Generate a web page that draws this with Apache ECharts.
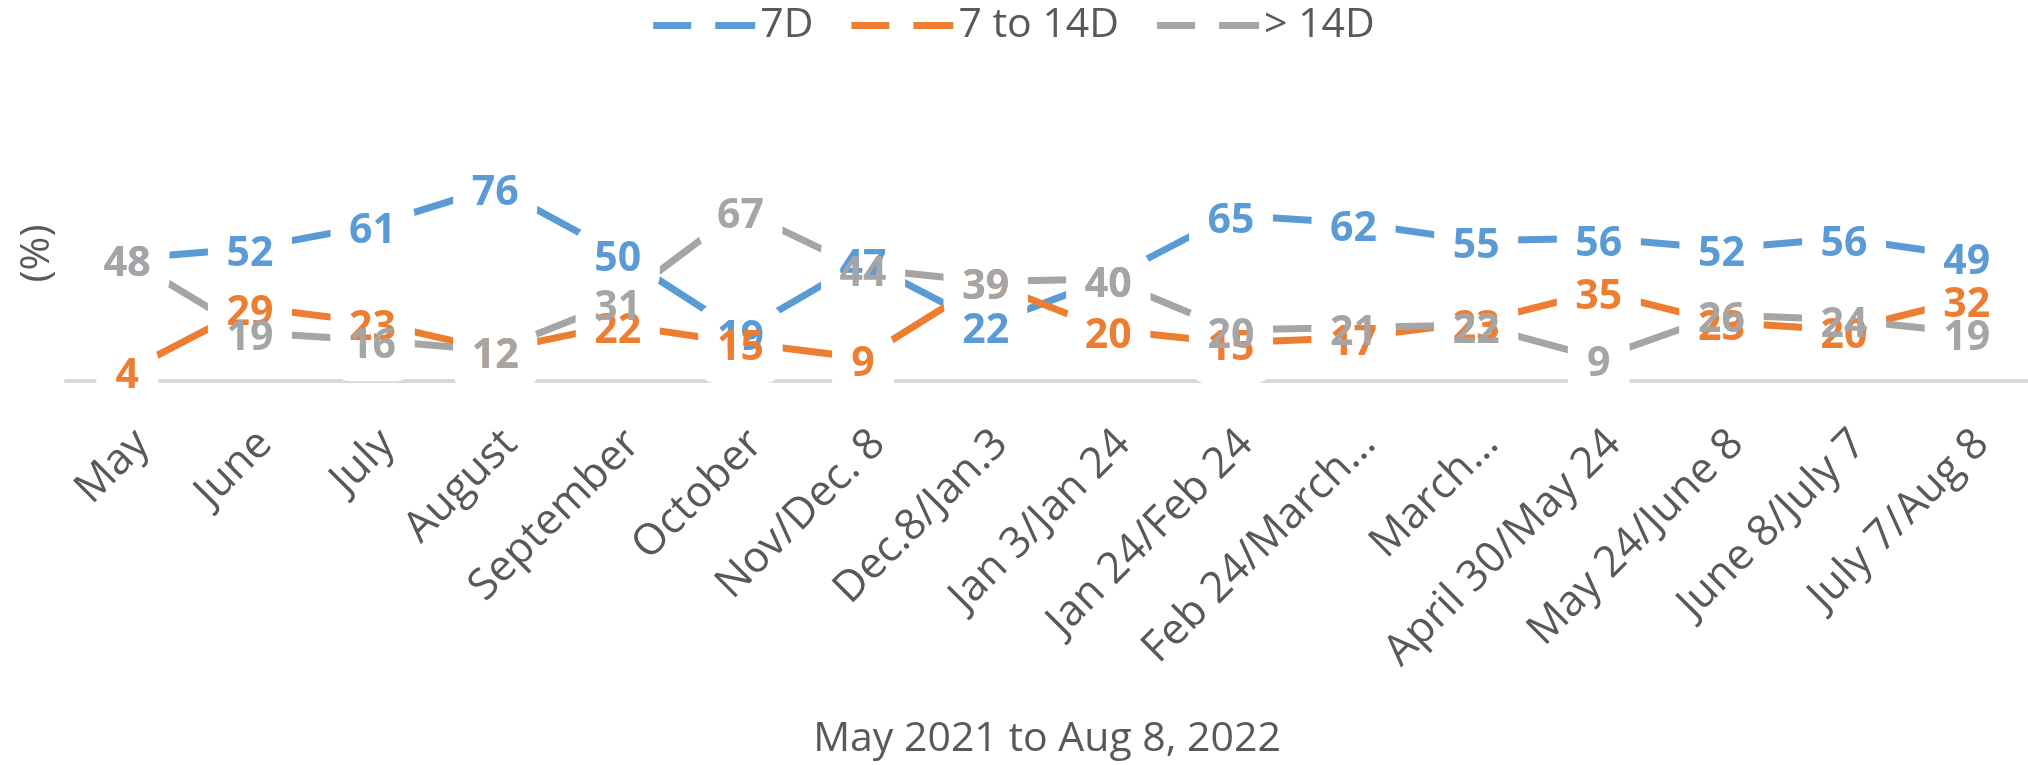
<!DOCTYPE html>
<html><head><meta charset="utf-8">
<script src="https://cdn.jsdelivr.net/npm/echarts@6/dist/echarts.min.js"></script>
<style>html,body{margin:0;padding:0;background:#fff}#c{width:2028px;height:765px}</style>
</head><body><div id="c"></div>
<script>
const categories = ['May','June','July','August','September','October','Nov/Dec. 8','Dec.8/Jan.3','Jan 3/Jan 24','Jan 24/Feb 24','Feb 24/March…','March…','April 30/May 24','May 24/June 8','June 8/July 7','July 7/Aug 8'];
const series7D = [48,52,61,76,50,19,47,22,40,65,62,55,56,52,56,49];
const series7to14D = [4,29,23,12,22,15,9,39,20,15,17,23,35,23,20,32];
const seriesOver14D = [48,19,16,12,31,67,44,39,40,20,21,22,9,26,24,19];
const seriesNames = ['7D','7 to 14D','> 14D'];
const colors = ['#5B9BD5','#ED7D31','#A5A5A5'];
const axisTitleX = 'May 2021 to Aug 8, 2022';
const axisTitleY = '(%)';

const FONT = "'Open Sans', 'Noto Sans', sans-serif";
const TEXT = '#595959';
const values = [series7D, series7to14D, seriesOver14D];
const DASH_ICON = 'path://M0,0H38V7H0ZM62,0H102V7H62Z';

const lineSeries = values.map((d,i)=>({
  name: seriesNames[i], type:'line', data:d, z:1, symbol:'none', showSymbol:false,
  lineStyle:{color:colors[i], width:7, cap:'butt'}, itemStyle:{color:colors[i]},
  emphasis:{disabled:true}, silent:true
}));
const glowSeries = values.map((d,i)=>({
  name:'glow'+i, type:'line', data:d, z:2, symbol:'circle', symbolSize:1, showAllSymbol:true,
  itemStyle:{color:'rgba(0,0,0,0)'}, lineStyle:{opacity:0}, silent:true, emphasis:{disabled:true},
  label:{show:true, position:'inside', offset:[0,6], formatter: p => (p.value>=10 ? '{w|\u00a0}' : '{n|\u00a0}'),
    rich:{ w:{width:84,height:70,backgroundColor:'#fff',borderRadius:19},
           n:{width:62,height:70,backgroundColor:'#fff',borderRadius:19} } }
}));
const textSeries = values.map((d,i)=>({
  name:'label'+i, type:'line', data:d, z:3, symbol:'circle', symbolSize:1, showAllSymbol:true,
  itemStyle:{color:'rgba(0,0,0,0)'}, lineStyle:{opacity:0}, silent:true, emphasis:{disabled:true},
  label:{show:true, position:'inside', offset:[0,6], color:colors[i], fontFamily:FONT, fontWeight:'bold', fontSize:41}
}));

const chart = echarts.init(document.getElementById('c'), null, {renderer:'canvas'});
chart.setOption({
  animation:false,
  backgroundColor:'#fff',
  legend:{data:seriesNames.map(n=>({name:n, icon:DASH_ICON})), top:0, left:'center', itemWidth:102, itemHeight:7, itemGap:38,
    textStyle:{color:TEXT, fontSize:41, fontFamily:FONT}},
  grid:{left:66, right:0, top:126, bottom:384, outerBoundsMode:'none'},
  xAxis:{type:'category', data:categories, boundaryGap:true,
    axisLine:{lineStyle:{color:'#D9D9D9', width:4}}, axisTick:{show:false},
    axisLabel:{interval:0, rotate:45, margin:41, verticalAlign:'top', align:'right', color:TEXT, fontSize:43, fontFamily:FONT},
    name:axisTitleX, nameLocation:'middle', nameGap:338, nameMoveOverlap:false,
    nameTextStyle:{color:TEXT, fontSize:41, fontFamily:FONT}},
  yAxis:{type:'value', min:0, max:100, axisLine:{show:false}, axisTick:{show:false}, axisLabel:{show:false}, splitLine:{show:false},
    name:axisTitleY, nameLocation:'middle', nameRotate:90, nameGap:8,
    nameTextStyle:{color:TEXT, fontSize:41, fontFamily:FONT}},
  series:[...lineSeries, ...glowSeries, ...textSeries]
});
</script></body></html>
